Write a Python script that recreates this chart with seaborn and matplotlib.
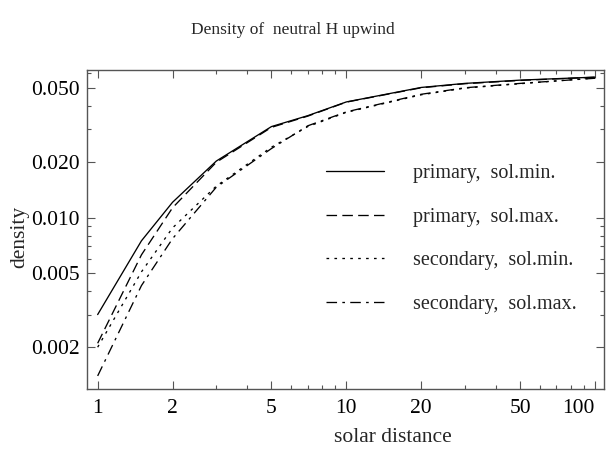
import numpy as np
import pandas as pd
import matplotlib
matplotlib.use("Agg")
import matplotlib.pyplot as plt
import matplotlib.ticker as mticker
import seaborn as sns

# ------------------------------------------------------------
# data
# ------------------------------------------------------------
solar_distance = [1, 1.5, 2, 3, 5, 7, 10, 20, 30, 50, 100]

primary_sol_min = [0.0030, 0.0075, 0.0121, 0.0202, 0.0310, 0.0355, 0.0421, 0.0504, 0.0530, 0.0552, 0.0573]
primary_sol_max = [0.0021, 0.0063, 0.0113, 0.0199, 0.0307, 0.0353, 0.0420, 0.0502, 0.0528, 0.0550, 0.0572]
secondary_sol_min = [0.0020, 0.0051, 0.0088, 0.0148, 0.0240, 0.0310, 0.0370, 0.0460, 0.0500, 0.0528, 0.0567]
secondary_sol_max = [0.0014, 0.0043, 0.0077, 0.0146, 0.0236, 0.0313, 0.0372, 0.0463, 0.0502, 0.0530, 0.0565]

series_labels = [
    "primary,  sol.min.",
    "primary,  sol.max.",
    "secondary,  sol.min.",
    "secondary,  sol.max.",
]
series_values = [primary_sol_min, primary_sol_max, secondary_sol_min, secondary_sol_max]
series_styles = ["-", (0, (8, 4)), (0, (2, 4)), (0, (8, 4, 2, 4))]

y_ticks = [0.002, 0.005, 0.010, 0.020, 0.050]
x_ticks = [1, 2, 5, 10, 20, 50, 100]

# ------------------------------------------------------------
# style
# ------------------------------------------------------------
sns.set_style("ticks")
plt.rcParams["font.family"] = ["Liberation Serif", "DejaVu Serif"]
plt.rcParams["axes.edgecolor"] = "#555555"
plt.rcParams["xtick.color"] = "#555555"
plt.rcParams["ytick.color"] = "#555555"
plt.rcParams["xtick.labelcolor"] = "black"
plt.rcParams["ytick.labelcolor"] = "black"

fig = plt.figure(figsize=(6.15, 4.51), dpi=100)
ax = fig.add_axes([87 / 615, 1 - 389 / 451, 517 / 615, 319 / 451])

for label, values, style in zip(series_labels, series_values, series_styles):
    sns.lineplot(
        x=solar_distance,
        y=values,
        ax=ax,
        color="black",
        linewidth=0.95,
        linestyle=style,
        label=label,
    )

ax.set_xscale("log")
ax.set_yscale("log")
ax.set_xlim(0.906, 108.7)
ax.set_ylim(0.00119, 0.0626)

ax.xaxis.set_major_locator(mticker.FixedLocator(x_ticks))
ax.xaxis.set_major_formatter(mticker.FixedFormatter([str(t) for t in x_ticks]))
ax.xaxis.set_minor_locator(mticker.LogLocator(base=10, subs=np.arange(2, 10)))
ax.xaxis.set_minor_formatter(mticker.NullFormatter())

ax.yaxis.set_major_locator(mticker.FixedLocator(y_ticks))
ax.yaxis.set_major_formatter(mticker.FixedFormatter([f"{t:.3f}" for t in y_ticks]))
ax.yaxis.set_minor_locator(mticker.LogLocator(base=10, subs=np.arange(2, 10)))
ax.yaxis.set_minor_formatter(mticker.NullFormatter())

ax.tick_params(which="both", direction="in", top=True, right=True, width=0.8)
ax.tick_params(which="major", length=6, labelsize=15.5)
ax.tick_params(which="minor", length=3)
ax.tick_params(axis="y", pad=5)
ax.tick_params(axis="x", pad=7)

for spine in ax.spines.values():
    spine.set_linewidth(1.0)

# the "100" label sits left of its tick in the reference
fig.canvas.draw()
ax.get_xticklabels()[-1].set_ha("right")
ax.get_xticklabels()[-1].set_x(100)

ax.set_xlabel("solar distance", fontsize=15.5)
ax.xaxis.set_label_coords((393 - 87) / 517, (389 - 437) / 319)
ax.xaxis.label.set_va("center")

ax.set_ylabel("density", fontsize=15.5)
ax.yaxis.set_label_coords((20 - 87) / 517, (389 - 237) / 319)
ax.yaxis.label.set_va("center")

fig.text(293 / 615, 1 - 30 / 451, "Density of  neutral H upwind",
         ha="center", va="center", fontsize=12.5)

ax.legend(
    loc="upper left",
    bbox_to_anchor=((326 - 87) / 517, (389 - 164) / 319),
    frameon=False,
    fontsize=14.5,
    handlelength=2.9,
    handletextpad=1.4,
    labelspacing=1.22,
    borderaxespad=0,
    borderpad=0,
)

fig.savefig("out.png", dpi=100)
